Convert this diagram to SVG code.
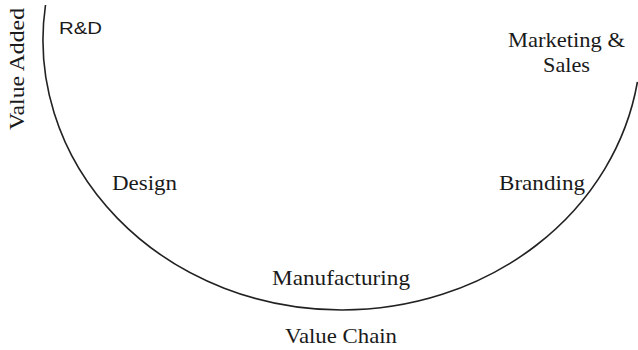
<svg xmlns="http://www.w3.org/2000/svg" width="638" height="350" viewBox="0 0 638 350">
<style>
.lbl{font-family:"Liberation Serif","Times New Roman",serif;font-size:22px;fill:#1a1a1a}
.sm{font-family:"Liberation Sans",Arial,sans-serif;font-size:16px;fill:#1a1a1a}
.curve{fill:none;stroke:#222;stroke-width:1.6}
</style>
<rect width="638" height="350" fill="#fff"/>
<g id="connectors">
<path class="curve" d="M45.5,5 A299,270 0 0 0 342,310 A299,270 0 0 0 637.4,82"/>
</g>
<g id="axis-y"><text class="lbl" transform="translate(24,130) rotate(-90)" textLength="122" lengthAdjust="spacingAndGlyphs">Value Added</text></g>
<g id="axis-x"><text class="lbl" x="285" y="343" textLength="112" lengthAdjust="spacingAndGlyphs">Value Chain</text></g>
<g id="rd"><text class="sm" x="59" y="34" textLength="43" lengthAdjust="spacingAndGlyphs">R&amp;D</text></g>
<g id="marketing">
<text class="lbl" x="508" y="47" textLength="117" lengthAdjust="spacingAndGlyphs">Marketing &amp;</text>
<text class="lbl" x="543" y="72" textLength="47" lengthAdjust="spacingAndGlyphs">Sales</text>
</g>
<g id="design"><text class="lbl" x="112" y="190" textLength="65" lengthAdjust="spacingAndGlyphs">Design</text></g>
<g id="branding"><text class="lbl" x="499" y="190" textLength="86" lengthAdjust="spacingAndGlyphs">Branding</text></g>
<g id="manufacturing"><text class="lbl" x="272" y="285" textLength="138" lengthAdjust="spacingAndGlyphs">Manufacturing</text></g>
</svg>
